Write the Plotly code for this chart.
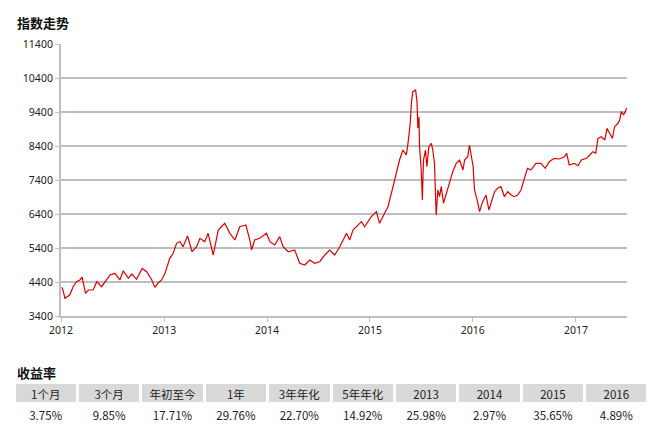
# %%
import plotly.graph_objects as go

# %% Data
dates = [
    "2012-01-04", "2012-01-08", "2012-01-15", "2012-02-01", "2012-02-13", "2012-02-25",
    "2012-03-08", "2012-03-16", "2012-03-28", "2012-04-07", "2012-04-24", "2012-05-07",
    "2012-05-24", "2012-06-11", "2012-06-23", "2012-07-10", "2012-07-28", "2012-08-09",
    "2012-08-27", "2012-09-08", "2012-09-25", "2012-10-15", "2012-10-31", "2012-11-18",
    "2012-11-29", "2012-12-11", "2012-12-23",
    "2013-01-04", "2013-01-21", "2013-02-02", "2013-02-14", "2013-02-26", "2013-03-09",
    "2013-03-25", "2013-04-10", "2013-04-26", "2013-05-08", "2013-05-25", "2013-06-06",
    "2013-06-24", "2013-07-12", "2013-07-23", "2013-08-04", "2013-08-22", "2013-09-09",
    "2013-09-26", "2013-10-18", "2013-11-01", "2013-11-07", "2013-11-18", "2013-12-06",
    "2013-12-30",
    "2014-01-11", "2014-01-28", "2014-02-15", "2014-02-27", "2014-03-17", "2014-04-09",
    "2014-04-27", "2014-05-15", "2014-06-01", "2014-06-19", "2014-07-07", "2014-07-25",
    "2014-08-11", "2014-08-29", "2014-09-16", "2014-10-10", "2014-10-21", "2014-11-02",
    "2014-12-02", "2014-12-13",
    "2015-01-06", "2015-01-24", "2015-02-04", "2015-02-22", "2015-03-06", "2015-03-24",
    "2015-04-05", "2015-04-16", "2015-04-28", "2015-05-10", "2015-05-16", "2015-05-24",
    "2015-05-28", "2015-06-02", "2015-06-12", "2015-06-17", "2015-06-20", "2015-06-24",
    "2015-06-26", "2015-07-02", "2015-07-06", "2015-07-10", "2015-07-17", "2015-07-22",
    "2015-07-29", "2015-08-07", "2015-08-12", "2015-08-18", "2015-08-24", "2015-08-30",
    "2015-09-05", "2015-09-11", "2015-09-19", "2015-09-29", "2015-10-10", "2015-10-22",
    "2015-11-03", "2015-11-15", "2015-11-27", "2015-12-03", "2015-12-14", "2015-12-20",
    "2016-01-02", "2016-01-07", "2016-01-15", "2016-01-25", "2016-02-05", "2016-02-17",
    "2016-02-27", "2016-03-06", "2016-03-18", "2016-03-29", "2016-04-10", "2016-04-22",
    "2016-05-04", "2016-05-16", "2016-05-27", "2016-06-08", "2016-06-20", "2016-07-02",
    "2016-07-13", "2016-07-25", "2016-08-12", "2016-08-30", "2016-09-14", "2016-09-28",
    "2016-10-16", "2016-11-03", "2016-11-21", "2016-11-29", "2016-12-08", "2016-12-26",
    "2017-01-08", "2017-01-20", "2017-02-07", "2017-02-19", "2017-03-02", "2017-03-12",
    "2017-03-20", "2017-04-01", "2017-04-13", "2017-04-21", "2017-05-01", "2017-05-10",
    "2017-05-18", "2017-05-30", "2017-06-05", "2017-06-11", "2017-06-19", "2017-06-26",
    "2017-06-30",
]
index_values = [
    4244, 4160, 3920, 4018, 4262, 4410,
    4460, 4540, 4067, 4165, 4165, 4410,
    4262, 4460, 4606, 4655, 4460, 4732,
    4508, 4635, 4480, 4800, 4703, 4460,
    4244, 4380, 4460,
    4655, 5097, 5244, 5538, 5585, 5438,
    5753, 5291, 5438, 5685, 5585, 5832,
    5194, 5929, 6026, 6126, 5832, 5635,
    6026, 6076, 5635, 5341, 5635, 5685,
    5832,
    5585, 5488, 5733, 5438, 5291, 5341,
    4950, 4900, 5047, 4950, 4997, 5194,
    5341, 5194, 5438, 5832, 5635, 5929,
    6174, 6026,
    6321, 6468, 6126, 6421, 6615, 7203,
    7597, 7988, 8282, 8135, 8479, 9068,
    9656, 9997, 10047, 9703, 8921, 9262,
    8382, 7694, 6812, 7988, 8282, 7791,
    8382, 8479, 8282, 7890, 6370, 7106,
    6909, 7203, 6715, 7009, 7303, 7644,
    7890, 7988, 7694, 7988, 8085, 8429,
    7800, 7106, 6862, 6468, 6762, 6959,
    6518, 6762, 7056, 7156, 7203, 6909,
    7056, 6959, 6909, 6959, 7106, 7450,
    7744, 7694, 7890, 7890, 7744, 7938,
    8038, 8018, 8085, 8185, 7841, 7890,
    7820, 7988, 8038, 8135, 8232, 8185,
    8626, 8673, 8576, 8921, 8773, 8626,
    8968, 9068, 9165, 9409, 9312, 9459,
    9520,
]

y_ticks = [3400, 4400, 5400, 6400, 7400, 8400, 9400, 10400, 11400]
y_tick_labels = [str(v) for v in y_ticks]

period_labels = ["1个月", "3个月", "年初至今", "1年", "3年年化", "5年年化", "2013", "2014", "2015", "2016"]
period_returns = ["3.75%", "9.85%", "17.71%", "29.76%", "22.70%", "14.92%", "25.98%", "2.97%", "35.65%", "4.89%"]

# %% Page geometry (the html body adds an 8px margin)
PAGE = 8
W, H = 660 - PAGE, 426 - PAGE
FONT = "Noto Sans CJK SC"


def px(x):
    """page pixel x -> paper fraction"""
    return (x - PAGE) / W


def py(y):
    """page pixel y -> paper fraction"""
    return 1 - (y - PAGE) / H


# %% Figure
fig = go.Figure()

fig.add_trace(go.Scatter(
    x=dates,
    y=index_values,
    mode="lines",
    line=dict(color="#e00000", width=1.2),
    showlegend=False,
    hoverinfo="skip",
))

fig.add_trace(go.Table(
    domain=dict(x=[px(14), px(648)], y=[py(424), py(382)]),
    columnwidth=[1] * len(period_labels),
    header=dict(
        values=period_labels,
        fill_color="#d9d9d9",
        line=dict(color="white", width=3),
        align="center",
        height=21,
        font=dict(family=FONT, size=11.5, color="#222"),
    ),
    cells=dict(
        values=[[v] for v in period_returns],
        fill_color="white",
        line=dict(color="white", width=3),
        align="center",
        height=19,
        font=dict(family=FONT, size=11.5, color="#222"),
    ),
))

fig.update_layout(
    width=W,
    height=H,
    margin=dict(l=0, r=0, t=0, b=0, autoexpand=False),
    paper_bgcolor="white",
    plot_bgcolor="white",
    font=dict(family=FONT, color="#222"),
    xaxis=dict(
        domain=[px(61), px(627)],
        type="date",
        range=["2012-01-01", "2017-07-01"],
        tick0="2012-01-01",
        dtick="M12",
        tickformat="%Y",
        automargin=False,
        showgrid=False,
        showline=True,
        linecolor="#bfbfbf",
        linewidth=1.5,
        ticks="outside",
        ticklen=4,
        tickcolor="#bfbfbf",
        tickfont=dict(family="Noto Sans", size=10.5, color="#222"),
    ),
    yaxis=dict(
        domain=[py(316), py(44)],
        range=[3400, 11400],
        tickvals=y_ticks,
        ticktext=y_tick_labels,
        automargin=False,
        showgrid=True,
        gridcolor="#bfbfbf",
        gridwidth=1.5,
        zeroline=False,
        showline=True,
        linecolor="#bfbfbf",
        linewidth=2,
        ticks="outside",
        ticklen=4,
        tickcolor="#bfbfbf",
        tickfont=dict(family="Noto Sans", size=10.5, color="#222"),
    ),
    annotations=[
        dict(text="<b>指数走势</b>", x=px(15), y=py(22.5), xref="paper", yref="paper",
             xanchor="left", yanchor="middle", showarrow=False,
             font=dict(family=FONT, size=13, color="#111")),
        dict(text="<b>收益率</b>", x=px(15), y=py(372), xref="paper", yref="paper",
             xanchor="left", yanchor="middle", showarrow=False,
             font=dict(family=FONT, size=13, color="#111")),
    ],
)

fig.write_html("out.html")
